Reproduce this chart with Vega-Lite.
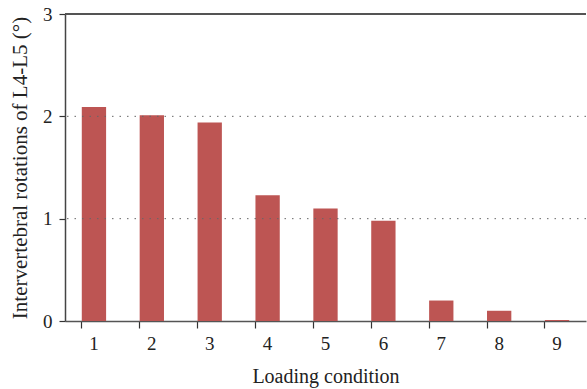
{
  "$schema": "https://vega.github.io/schema/vega-lite/v6.json",
  "width": 521,
  "height": 307,
  "autosize": {"type": "none"},
  "padding": {"left": 65, "top": 14, "right": 1, "bottom": 68},
  "config": {
    "view": {"stroke": null},
    "font": "Liberation Serif",
    "axis": {"labelFont": "Liberation Serif", "titleFont": "Liberation Serif", "labelColor": "#222", "titleColor": "#222", "titleFontWeight": "normal"}
  },
  "data": {
    "values": [
      {"condition": "1", "rotation": 2.09},
      {"condition": "2", "rotation": 2.01},
      {"condition": "3", "rotation": 1.94},
      {"condition": "4", "rotation": 1.23},
      {"condition": "5", "rotation": 1.10},
      {"condition": "6", "rotation": 0.98},
      {"condition": "7", "rotation": 0.20},
      {"condition": "8", "rotation": 0.10},
      {"condition": "9", "rotation": 0.01}
    ]
  },
  "layer": [
    {
      "mark": {"type": "bar", "color": "#BD5553"},
      "encoding": {
        "x": {
          "field": "condition", "type": "ordinal", "title": "Loading condition",
          "scale": {"paddingInner": 0.58, "paddingOuter": 0.29},
          "axis": {"labelAngle": 0, "bandPosition": 0, "tickSize": 7, "tickColor": "#333", "tickWidth": 1.2, "domainColor": "#555", "domainWidth": 1.5, "labelFont": "Liberation Serif", "labelFontSize": 19, "labelPadding": 6, "titleFont": "Liberation Serif", "titleFontSize": 20, "titlePadding": 13}
        },
        "y": {
          "field": "rotation", "type": "quantitative", "title": "Intervertebral rotations of L4-L5 (°)",
          "scale": {"domain": [0, 3], "nice": false},
          "axis": {"values": [0, 1, 2, 3], "format": "d", "tickSize": 6, "tickColor": "#333", "tickWidth": 1.2, "domainColor": "#444", "domainWidth": 1.5, "labelFont": "Liberation Serif", "labelFontSize": 19, "labelPadding": 7, "titleFont": "Liberation Serif", "titleFontSize": 21, "titlePadding": 12, "grid": false}
        }
      }
    },
    {
      "data": {"values": [{"g": 1}, {"g": 2}]},
      "mark": {"type": "rule", "color": "#666", "strokeDash": [1.5, 6], "strokeWidth": 1},
      "encoding": {"y": {"field": "g", "type": "quantitative"}}
    },
    {
      "mark": {"type": "rule", "color": "#555", "strokeWidth": 1.5},
      "encoding": {"y": {"datum": 3}}
    }
  ]
}
